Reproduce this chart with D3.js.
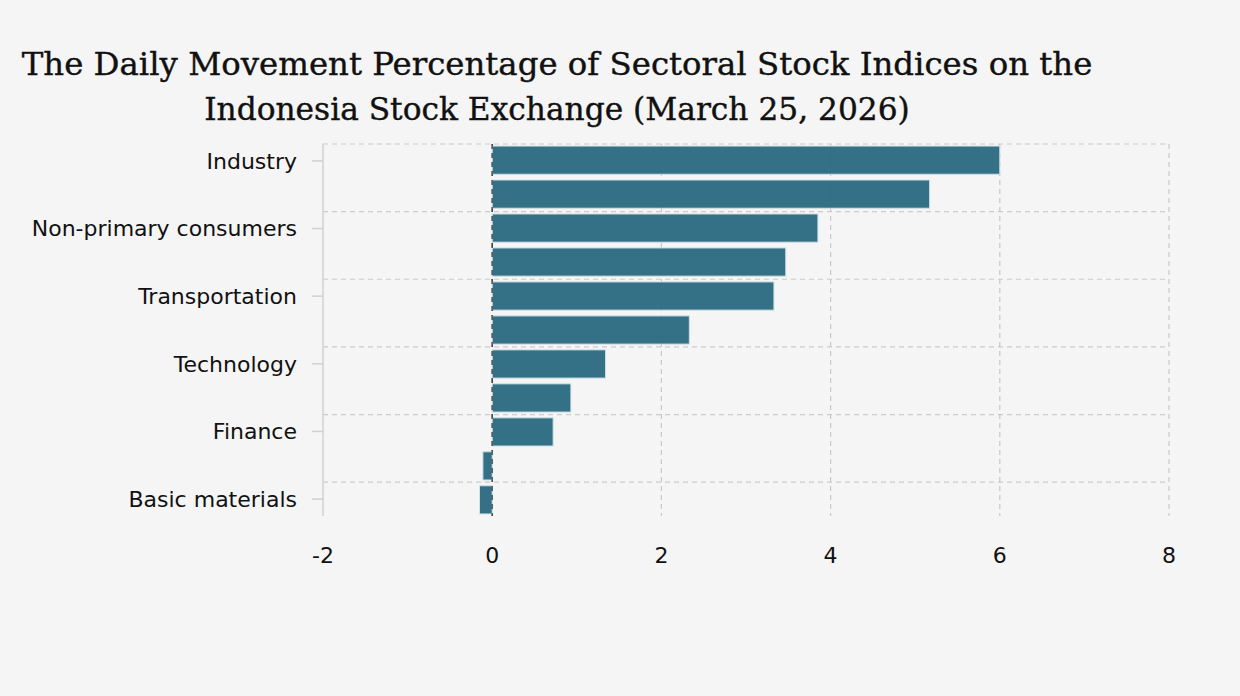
<!DOCTYPE html>
<html>
<head>
<meta charset="utf-8">
<script src="https://cdn.jsdelivr.net/npm/d3@7"></script>
<style>
  body { margin: 0; background: #f5f5f5; }
  svg { display: block; }
</style>
</head>
<body>
<div id="chart"></div>
<script>
const titleLines = [
    "The Daily Movement Percentage of Sectoral Stock Indices on the",
    "Indonesia Stock Exchange (March 25, 2026)"
]
// only every other sector gets a label on the axis
const sectors = [
    "Industry", "Energy", "Non-primary consumers", "Primary consumers",
    "Transportation", "Infrastructure", "Technology", "Property",
    "Finance", "Healthcare", "Basic materials"
]
const changes = [6.0, 5.17, 3.85, 3.47, 3.33, 2.33, 1.34, 0.93, 0.72, -0.11, -0.15]
const xTicks = [-2, 0, 2, 4, 6, 8]

const W = 1240, H = 696
const plotLeft = 323, plotRight = 1169, plotTop = 144, plotBottom = 516
const labelFont = "'DejaVu Sans', Verdana, sans-serif"
const labelSize = 22

const svg = d3.select("#chart").append("svg")
    .attr("width", W)
    .attr("height", H)

svg.append("rect").attr("width", W).attr("height", H).attr("fill", "#f5f5f5")

// title, fitted to the width of the original
const titleWidths = [1071, 706]
const titleBase = [75, 120]
const title = svg.append("g")
titleLines.forEach((t, i) => {
    const txt = title.append("text")
        .attr("x", 557)
        .attr("y", titleBase[i])
        .attr("text-anchor", "middle")
        .attr("font-family", "'DejaVu Serif', serif")
        .attr("font-size", 34)
        .attr("fill", "#111")
        .attr("stroke", "#111")
        .attr("stroke-width", 0.4)
        .text(t)
    const w = txt.node().getComputedTextLength()
    txt.attr("font-size", 34 * titleWidths[i] / w)
})

const x = d3.scaleLinear().domain([-2, 8]).range([plotLeft, plotRight])
const y = d3.scaleBand().domain(sectors).range([plotTop, plotBottom]).paddingInner(0.17).paddingOuter(0.06)
const step = (plotBottom - plotTop) / sectors.length

const grid = svg.append("g")
// horizontal split lines every two categories
d3.range(0, sectors.length, 2).forEach(i => {
    grid.append("line")
        .attr("x1", plotLeft).attr("x2", plotRight)
        .attr("y1", plotTop + i * step).attr("y2", plotTop + i * step)
        .attr("stroke", "#cccccc")
        .attr("stroke-dasharray", "5,4")
        .attr("stroke-width", 1.2)
})
// vertical grid
xTicks.filter(d => d !== -2).forEach(d => {
    grid.append("line")
        .attr("x1", x(d)).attr("x2", x(d))
        .attr("y1", plotTop).attr("y2", plotBottom)
        .attr("stroke", d === 0 ? "#444" : "#c8c8c8")
        .attr("stroke-dasharray", "5,4")
        .attr("stroke-width", 1.2)
})

// bars
svg.append("g")
    .selectAll("rect")
    .data(changes)
    .enter()
    .append("rect")
    .attr("x", d => x(Math.min(0, d)))
    .attr("y", (_d, i) => y(sectors[i]))
    .attr("width", d => Math.abs(x(d) - x(0)))
    .attr("height", y.bandwidth())
    .attr("fill", "#29697f")
    .attr("fill-opacity", 0.95)
    .attr("stroke", "#cfe0e6")
    .attr("stroke-width", 1)

// zero line over bars
svg.append("line")
    .attr("x1", x(0)).attr("x2", x(0))
    .attr("y1", plotTop).attr("y2", plotBottom)
    .attr("stroke", "#333")
    .attr("stroke-opacity", 0.75)
    .attr("stroke-dasharray", "5,4")
    .attr("stroke-width", 1.4)

// y axis
const yAxis = svg.append("g")
yAxis.append("line")
    .attr("x1", plotLeft).attr("x2", plotLeft)
    .attr("y1", plotTop).attr("y2", plotBottom)
    .attr("stroke", "#d0d0d0")
    .attr("stroke-width", 1.5)
sectors.forEach((s, i) => {
    if (i % 2 !== 0) return
    const cy = plotTop + (i + 0.5) * step
    yAxis.append("line")
        .attr("x1", plotLeft - 11).attr("x2", plotLeft)
        .attr("y1", cy).attr("y2", cy)
        .attr("stroke", "#d0d0d0")
        .attr("stroke-width", 1.5)
    yAxis.append("text")
        .attr("x", 297)
        .attr("y", cy)
        .attr("dy", "0.35em")
        .attr("text-anchor", "end")
        .attr("font-family", labelFont)
        .attr("font-size", labelSize)
        .attr("fill", "#111")
        .text(s)
})

// x axis labels
svg.append("g")
    .selectAll("text")
    .data(xTicks)
    .enter()
    .append("text")
    .attr("x", d => x(d))
    .attr("y", 555)
    .attr("dy", "0.35em")
    .attr("text-anchor", "middle")
    .attr("font-family", labelFont)
    .attr("font-size", labelSize)
    .attr("fill", "#111")
    .text(d => d)
</script>
</body>
</html>
